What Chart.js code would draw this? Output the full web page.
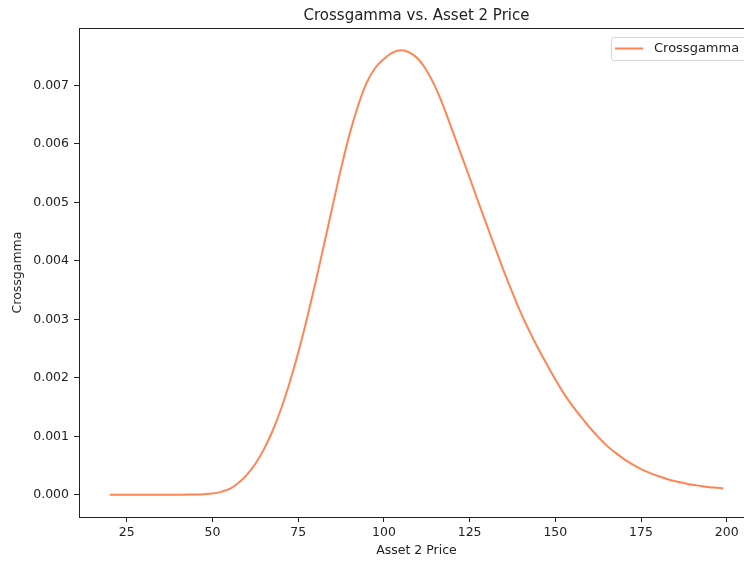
<!DOCTYPE html>
<html>
<head>
<meta charset="utf-8">
<title>Crossgamma vs. Asset 2 Price</title>
<script src="https://cdn.jsdelivr.net/npm/chart.js@4.4.1/dist/chart.umd.min.js"></script>
<style>
  html, body { margin: 0; padding: 0; background: #fff; overflow: hidden; }
  #wrap { position: absolute; left: 0; top: 0; width: 744px; height: 561px; overflow: hidden; }
  #chart { display: block; }
</style>
</head>
<body>
<div id="wrap"><canvas id="chart" width="770" height="561"></canvas></div>
<script>
// Giá tài sản 2 và crossgamma tương ứng
const prices = [20, 25, 30, 35, 40, 42.5, 45, 47.5, 50, 52.5, 55, 57.5, 60, 62.5, 65, 67.5, 70,
  72.5, 75, 77.5, 80, 82.5, 85, 87.5, 90, 92.5, 95, 97.5, 100, 102.5, 105, 107.5, 110, 112.5,
  115, 117.5, 120, 122.5, 125, 127.5, 130, 132.5, 135, 137.5, 140, 142.5, 145, 147.5, 150,
  152.5, 155, 157.5, 160, 162.5, 165, 167.5, 170, 172.5, 175, 177.5, 180, 182.5, 185, 187.5,
  190, 192.5, 195, 197.5, 199];
const crossgamma = [0, 0, 0, 0, 0.000001, 0.000003, 0.000005, 0.00001, 0.00002, 0.00005,
  0.00010, 0.00020, 0.00034, 0.00053, 0.00078, 0.00109, 0.00147, 0.00192, 0.00243, 0.00300,
  0.00362, 0.00427, 0.00493, 0.00558, 0.00617, 0.00666, 0.00705, 0.00730, 0.00745, 0.00756,
  0.00760, 0.00756, 0.00745, 0.00725, 0.00697, 0.00662, 0.00622, 0.00582, 0.00542, 0.00501,
  0.00461, 0.00421, 0.00382, 0.00345, 0.00310, 0.00279, 0.00250, 0.00223, 0.00197, 0.00173,
  0.00152, 0.00133, 0.00115, 0.00099, 0.00084, 0.00072, 0.00061, 0.00052, 0.00044, 0.000375,
  0.00032, 0.00027, 0.00023, 0.00020, 0.00017, 0.00015, 0.00013, 0.00012, 0.00011];

// Vạch chia trục
const xTicks = [25, 50, 75, 100, 125, 150, 175, 200];
const yTicks = [0, 0.001, 0.002, 0.003, 0.004, 0.005, 0.006, 0.007];

const chartTitle = 'Crossgamma vs. Asset 2 Price';
const lineColor = '#ff8555';
const textColor = '#222';
const fontFamily = '"DejaVu Sans", sans-serif';

// Khung viền 4 cạnh, tiêu đề giữa vùng vẽ và chú thích góc trên phải
const framePlugin = {
  id: 'frame',
  afterDraw(chart) {
    const { ctx, chartArea: a } = chart;
    ctx.save();
    ctx.strokeStyle = '#222';
    ctx.lineWidth = 1;
    ctx.strokeRect(Math.round(a.left) + 0.5, Math.round(a.top) + 0.5,
      Math.round(a.right - a.left), Math.round(a.bottom - a.top));

    // tiêu đề
    ctx.fillStyle = textColor;
    ctx.font = '15px ' + fontFamily;
    ctx.textAlign = 'center';
    ctx.textBaseline = 'middle';
    ctx.fillText(chartTitle, (a.left + a.right) / 2, 16);

    // chú thích
    const label = chart.data.datasets[0].label;
    ctx.font = '13px ' + fontFamily;
    ctx.textAlign = 'left';
    const bx = 611, by = 37, bh = 23;
    const bw = a.right - 6 - bx;
    ctx.fillStyle = 'rgba(255,255,255,0.8)';
    ctx.strokeStyle = '#d6d6d6';
    ctx.beginPath();
    ctx.roundRect(bx + 0.5, by + 0.5, bw, bh, 2);
    ctx.fill();
    ctx.stroke();
    ctx.strokeStyle = lineColor;
    ctx.lineWidth = 2;
    ctx.beginPath();
    ctx.moveTo(615, by + bh / 2);
    ctx.lineTo(643, by + bh / 2);
    ctx.stroke();
    ctx.fillStyle = textColor;
    ctx.fillText(label, 654, by + bh / 2 + 0.5);
    ctx.restore();
  }
};

new Chart(document.getElementById('chart'), {
  type: 'line',
  data: {
    datasets: [{
      label: 'Crossgamma',
      data: prices.map((p, i) => ({ x: p, y: crossgamma[i] })),
      borderColor: lineColor,
      borderWidth: 2,
      pointRadius: 0,
      fill: false,
      cubicInterpolationMode: 'monotone'
    }]
  },
  options: {
    responsive: false,
    animation: false,
    layout: { padding: { left: 0, right: 16, top: 28, bottom: 0 } },
    plugins: {
      legend: { display: false },
      tooltip: { enabled: false },
      title: { display: false }
    },
    scales: {
      x: {
        type: 'linear',
        min: 11.05,
        max: 207.95,
        afterBuildTicks: s => { s.ticks = xTicks.map(v => ({ value: v })); },
        afterFit: s => { s.height = 44; },
        grid: { drawOnChartArea: false, drawTicks: true, tickLength: 5, tickColor: '#222' },
        border: { color: '#222', width: 1 },
        ticks: {
          color: textColor,
          padding: 3,
          maxRotation: 0,
          font: { family: fontFamily, size: 12.5 },
          callback: v => String(v)
        },
        title: {
          display: true,
          text: 'Asset 2 Price',
          color: textColor,
          font: { family: fontFamily, size: 12.5 },
          padding: { top: 0, bottom: 3 }
        }
      },
      y: {
        type: 'linear',
        min: -0.00038,
        max: 0.00798,
        afterBuildTicks: s => { s.ticks = yTicks.map(v => ({ value: v })); },
        afterFit: s => { s.width = 79; },
        grid: { drawOnChartArea: false, drawTicks: true, tickLength: 5, tickColor: '#222' },
        border: { color: '#222', width: 1 },
        ticks: {
          color: textColor,
          padding: 5,
          font: { family: fontFamily, size: 12.5 },
          callback: v => v.toFixed(3)
        },
        title: {
          display: true,
          text: 'Crossgamma',
          color: textColor,
          font: { family: fontFamily, size: 12.5 },
          padding: { top: 10, bottom: 0 }
        }
      }
    }
  },
  plugins: [framePlugin]
});
</script>
</body>
</html>
